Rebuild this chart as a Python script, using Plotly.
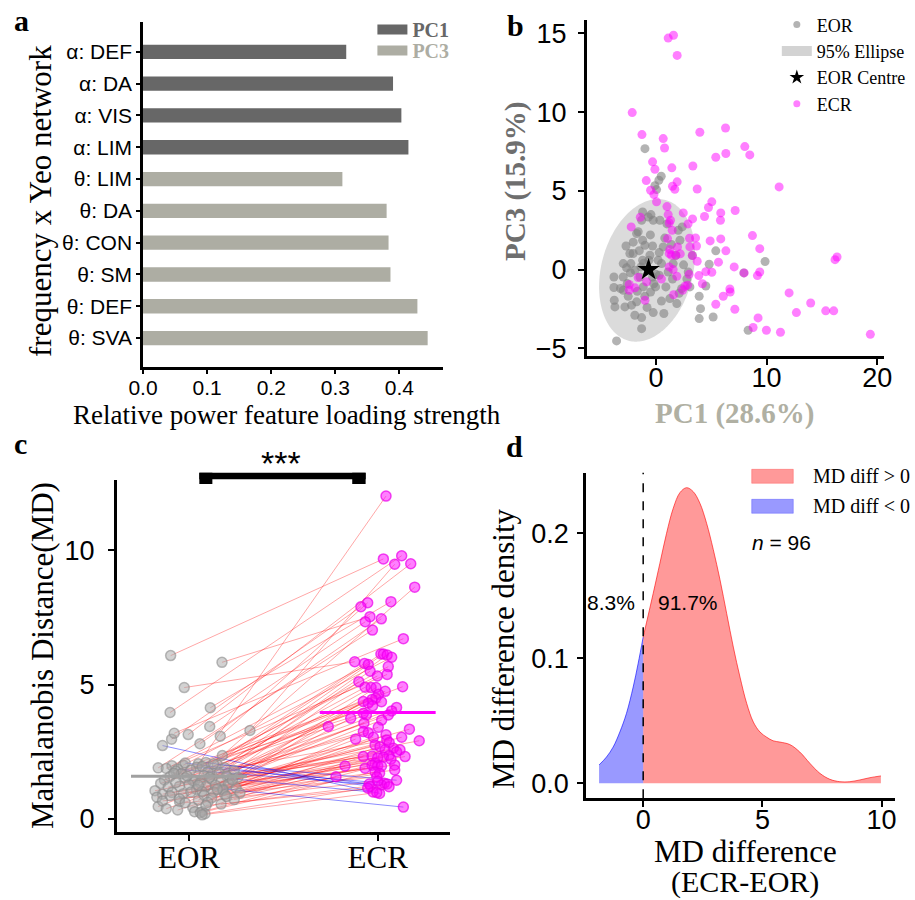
import numpy as np
import plotly.graph_objects as go

SERIF = "Liberation Serif"
SANS = "Liberation Sans"

# ---------------- panel a data ----------------
feat_labels = ["θ: SVA", "θ: DEF", "θ: SM", "θ: CON", "θ: DA", "θ: LIM",
               "α: LIM", "α: VIS", "α: DA", "α: DEF"]
feat_loading = [0.444, 0.428, 0.386, 0.383, 0.380, 0.311,
                0.414, 0.403, 0.390, 0.317]
feat_pc = ["PC3", "PC3", "PC3", "PC3", "PC3", "PC3",
           "PC1", "PC1", "PC1", "PC1"]

# ---------------- panel b data ----------------
eor_pc1 = [-0.99, 0.48, 0.27, -0.09, 0.06, -1.20, -0.45, -0.69, -0.24, -1.29, 2.38, -1.74,
           -2.05, -1.20, -0.99, 0.30, -0.54, -2.35, -2.95, -2.26, -2.65, -1.89, -1.35, -0.63,
           -1.20, 0.51, 0.30, -0.30, -1.44, -3.79, -2.95, -2.59, -3.79, -2.95, -1.68, -0.48,
           -0.03, -1.14, -3.76, -3.70, -2.80, -2.20, -1.74, -1.29, -1.29, -0.24, 0.72, 1.26,
           1.89, 2.32, 3.07, 2.92, 3.91, 4.03, 3.91, 4.51, 5.17, 4.81, 5.41, 9.86, 7.94, 8.33,
           -3.55, 1.11, 1.56, 0.66, 2.02, 2.17, -2.05, 0.36,
           -0.5, 0.8, -1.5, 0.2, -0.2, -2.3, 1.8, 2.5, -1.0, 0.9, -2.7, 1.4, -1.6, 0.5, -0.8,
           2.8, -3.2, 1.0, -0.3, -1.9, 2.1, -1.1, 0.0, 1.5, -2.5, 3.3]
eor_pc3 = [7.68, 5.93, 5.67, 5.33, 5.08, 3.66, 3.49, 3.34, 3.13, 3.13, 2.71, 2.29,
           1.74, 1.86, 1.54, 1.08, 0.91, 1.02, 0.38, 0.38, 0.11, -0.04, 0.17, 0.59,
           0.59, 0.38, -0.36, -0.47, -0.47, -0.47, -0.47, -0.89, -1.14, -1.31, -1.38, -1.42,
           -1.10, -1.10, -1.95, -2.37, -2.37, -2.26, -2.05, -3.05, -3.75, -2.73, -2.79, -1.84,
           -2.16, -1.21, -1.10, -0.15, -1.69, -2.48, -3.11, -1.04, -3.01, 0.34, 1.19, 0.51, -0.21, -3.85,
           -4.53, -0.15, 0.38, 1.44, 2.50, 1.86, 1.02, 3.13,
           2.2, 2.0, 1.2, 0.6, -0.9, -0.2, 0.9, 0.3, -1.7, -1.1, 1.5, 1.6, 2.4, -2.0, -2.4,
           -0.6, -1.2, 2.9, 1.5, -2.9, -1.5, 0.4, -0.3, -0.6, -1.7, 0.9]
ecr_pc1 = [1.11, 1.59, 1.92, -2.14, -1.26, 0.66, 0.78, -0.30, -0.09, -0.87, -0.48, -0.18,
           0.06, 1.44, 1.92, 1.50, 1.71, 3.34, 3.73, 3.97, 6.29, 6.32, 5.41, 8.03, 8.48, 11.13,
           5.05, 4.75, 4.39, 5.86, 5.83, 7.16, 2.47, 3.31, 1.11, 1.32, 1.20, 1.47, -1.41, -2.23,
           1.05, 3.04, 3.58, 3.07, 3.67, 1.26, 1.95, 1.20, 1.41, 1.80, 3.28, 3.73, 4.90, 5.86,
           6.32, 8.72, 9.38, 7.07, 5.65, 5.05, 4.51, 3.88, 1.20, 1.56, 1.89, 9.38, 9.17, 7.97,
           16.18, 16.36, -0.84, -2.41, -1.89, -2.41, -0.99, 2.62, 2.41, 2.86, 6.68, 6.71, 6.08,
           5.41, 7.13, 12.03, 13.98, 12.69, 15.34, 16.06, 9.23, 8.78, 9.98, 11.25, 19.37,
           1.0, 2.2, 0.5, 3.0, -1.6, 4.2, 2.9, 1.6]
ecr_pc3 = [14.70, 14.88, 13.60, 9.97, 8.57, 8.32, 7.72, 6.84, 6.37, 5.65, 5.04, 4.76,
           4.30, 6.46, 5.57, 5.29, 5.10, 6.58, 5.12, 8.72, 8.99, 7.37, 7.13, 7.81, 7.28, 5.25,
           4.30, 3.94, 3.37, 3.60, 3.13, 3.75, 3.60, 3.22, 3.49, 3.13, 2.96, 2.50, 3.32, 2.71,
           1.97, 1.99, 2.01, 1.44, 1.50, 1.27, 1.44, 1.02, 0.91, 0.91, 0.89, 0.53, 1.82, 1.95,
           1.19, 2.16, 1.33, 0.17, 0.47, -0.17, -0.13, -0.38, 0.17, 0.00, -0.42, -0.15, -0.38, -0.21,
           0.63, 0.80, -0.78, -0.95, -1.16, -1.31, -1.95, -1.06, -1.31, -0.99, -1.23, -1.42, -1.69,
           -2.20, -2.52, -1.48, -2.12, -2.73, -2.62, -2.62, -3.07, -3.68, -3.85, -3.98, -4.11,
           4.0, 1.0, -0.6, -0.3, -0.5, -0.9, 2.9, -1.6]
eor_centre = [-0.66, 0.0]
# 95% ellipse: centre, semi-axes and rotation (degrees)
ell_centre = [-0.8, -0.05]
ell_axes = [4.92, 3.88]
ell_angle = 50.5

# ---------------- panel c data (per subject) ----------------
md_eor = [2.05, 3.96, 6.08, 3.14, 3.29, 2.36, 4.14, 3.08, 2.97, 5.83, 2.80, 3.44, 1.90, 3.19,
          1.42, 1.65, 0.65, 2.00, 4.89,
          2.73, 2.10, 2.08, 2.02, 1.92, 1.85, 1.50, 1.12,
          2.05, 1.98, 1.95, 1.90, 1.88, 1.82, 1.80, 1.78, 1.75,
          1.72, 0.70, 1.68, 1.60, 1.58, 1.62, 1.55, 1.52, 1.48, 1.45, 1.40, 1.38, 1.70, 1.35,
          1.32, 1.30, 0.46, 1.28, 1.25, 1.22, 1.20, 0.42, 1.18, 1.15, 1.10, 0.38, 1.08, 1.60,
          1.05, 1.45, 1.02, 0.33, 1.00, 0.98, 1.25, 0.96, 0.94, 1.55, 0.92, 0.27, 0.90, 1.35,
          0.88, 0.86, 1.10, 0.83, 0.27, 0.81, 1.00, 0.78, 0.75, 0.23, 0.72, 0.67, 0.62, 0.60,
          0.55, 0.50, 0.19, 0.15]
md_ecr = [12.02, 9.80, 9.68, 9.50, 9.48, 8.63, 8.09, 8.05, 7.90, 7.53, 7.45, 7.34, 7.03, 6.71,
          6.14, 6.14, 6.10, 6.02, 5.85,
          0.95, 1.30, 1.22, 1.44, 1.33, 1.26, 1.00, 0.44,
          5.79, 5.75, 5.67, 5.50, 5.38, 5.32, 5.11, 4.92, 4.90,
          4.89, 4.89, 4.75, 4.64, 4.50, 4.45, 4.37, 4.36, 4.31, 4.21, 4.15, 4.02, 3.93, 3.87,
          3.87, 3.75, 3.68, 3.56, 3.44, 3.41, 3.34, 3.25, 3.21, 3.13, 3.04, 3.04, 2.97, 2.94,
          2.91, 2.84, 2.75, 2.69, 2.63, 2.57, 2.57, 2.50, 2.36, 2.34, 2.32, 2.32, 2.30, 2.28,
          2.22, 2.07, 2.01, 2.00, 1.98, 1.97, 1.96, 1.89, 1.82, 1.75, 1.70, 1.57, 1.57, 1.40,
          1.30, 1.20, 1.15, 0.98]
jit_eor = [0.05, -0.10, -0.097, -0.004, 0.323, 0.177, 0.113, 0.166, -0.092, 0.175, 0.058, 0.11,
           -0.163, -0.078, 0.02, 0.12, -0.05, -0.03, -0.025,
           -0.14, 0.09, -0.02, 0.15, 0.04, -0.06, 0.22, 0.18,
           0.13, -0.09, 0.07, 0.19, -0.12, 0.01, 0.24, -0.07, 0.10,
           0.16, 0.05, -0.04, 0.20, -0.10, 0.08, 0.26, -0.02, 0.12, -0.13, 0.03, 0.17, -0.08, 0.06,
           -0.15, 0.21, -0.163, 0.00, 0.14, -0.05, 0.09, 0.02, -0.11, 0.25, 0.04, -0.12, 0.18, -0.01,
           -0.18, 0.23, 0.07, -0.06, 0.13, -0.09, 0.05, 0.27, -0.03, 0.11, -0.14, 0.03, 0.19, -0.07,
           0.08, -0.10, 0.15, 0.20, 0.07, -0.17, 0.01, 0.12, -0.05, 0.06, 0.24, -0.14, 0.10, -0.02,
           0.17, 0.09, 0.085, 0.07]
jit_ecr = [1.044, 1.127, 1.03, 1.175, 1.09, 1.196, 1.07, 0.947, 0.911, 0.959, 1.019, 0.934,
           0.972, 1.136, 1.017, 1.03, 1.05, 1.074, 0.878,
           1.01, 0.955, 0.962, 1.10, 1.035, 1.02, 0.975, 1.136,
           0.93, 0.95, 1.056, 0.96, 1.05, 0.998, 0.90, 1.132, 0.933,
           0.965, 0.991, 1.04, 1.005, 0.99, 0.97, 0.924, 1.02, 0.95, 0.973, 1.10, 1.074, 0.924, 1.056,
           0.94, 0.857, 1.021, 0.927, 0.738, 1.003, 1.168, 0.924, 0.95, 1.044, 1.127, 0.977, 0.883, 1.048,
           1.22, 1.061, 0.986, 1.012, 1.083, 1.039, 1.118, 1.10, 1.06, 0.97, 1.145, 0.924, 1.03, 1.0,
           1.07, 0.986, 1.09, 0.97, 1.0, 0.827, 1.02, 0.933, 1.09, 0.986, 1.01, 0.995, 0.779, 1.0,
           1.05, 1.06, 0.947, 0.995]
group_labels = ["EOR", "ECR"]

# ---------------- panel d data (density of MD difference) ----------------
kde_x = [-1.85, -1.54, -1.26, -0.98, -0.70, -0.42, -0.21, 0.0, 0.42, 0.70, 0.98, 1.26, 1.54,
         1.82, 2.10, 2.38, 2.66, 2.94, 3.22, 3.50, 3.78, 4.06, 4.34, 4.62, 4.90, 5.17, 5.45,
         5.73, 6.15, 6.57, 6.99, 7.41, 7.83, 8.25, 8.67, 9.09, 9.51, 9.97]
kde_y = [0.0147, 0.021, 0.029, 0.041, 0.056, 0.077, 0.096, 0.117, 0.152, 0.176, 0.200, 0.220,
         0.2325, 0.2365, 0.2333, 0.224, 0.208, 0.187, 0.163, 0.136, 0.109, 0.085, 0.064, 0.049,
         0.041, 0.037, 0.034, 0.033, 0.031, 0.025, 0.016, 0.008, 0.0032, 0.0013, 0.0013, 0.0027,
         0.0045, 0.0059]
pct_neg = "8.3%"
pct_pos = "91.7%"
n_subj = 96
diff_legend = ["MD diff &gt; 0", "MD diff &lt; 0"]

# ---------------- colours ----------------
C_PC1 = "#676767"
C_PC3 = "#adada3"
C_GRAY = "rgba(128,128,128,0.6)"
C_MAG = "rgba(255,0,255,0.5)"
C_RED = "rgba(255,0,0,0.4)"
C_BLUE = "rgba(0,0,255,0.4)"

fig = go.Figure()

# ---- panel a: bars ----
for pc, col in [("PC1", C_PC1), ("PC3", C_PC3)]:
    xs = [v for v, p in zip(feat_loading, feat_pc) if p == pc]
    ys = [l for l, p in zip(feat_labels, feat_pc) if p == pc]
    fig.add_trace(go.Bar(x=xs, y=ys, orientation="h", width=0.45, marker_color=col,
                         marker_line_width=0, showlegend=False, xaxis="x", yaxis="y"))
    fig.add_trace(go.Scatter(x=[None], y=[None], mode="lines", line=dict(color=col, width=10),
                             name="<b>%s</b>" % pc, xaxis="x", yaxis="y",
                             legend="legend" if pc == "PC1" else "legend2"))

# ---- panel b: scatter ----
t = np.linspace(0, 2 * np.pi, 200)
ang = np.deg2rad(ell_angle)
ex = ell_centre[0] + ell_axes[0] * np.cos(t) * np.cos(ang) - ell_axes[1] * np.sin(t) * np.sin(ang)
ey = ell_centre[1] + ell_axes[0] * np.cos(t) * np.sin(ang) + ell_axes[1] * np.sin(t) * np.cos(ang)
fig.add_trace(go.Scatter(x=ex, y=ey, mode="none", fill="toself",
                         fillcolor="rgba(190,190,190,0.55)", showlegend=False,
                         xaxis="x2", yaxis="y2"))
fig.add_trace(go.Scatter(x=eor_pc1, y=eor_pc3, mode="markers", showlegend=False,
                         marker=dict(size=9, color=C_GRAY, line=dict(width=0)),
                         xaxis="x2", yaxis="y2"))
fig.add_trace(go.Scatter(x=ecr_pc1, y=ecr_pc3, mode="markers", showlegend=False,
                         marker=dict(size=9, color=C_MAG, line=dict(width=0)),
                         xaxis="x2", yaxis="y2"))
fig.add_trace(go.Scatter(x=[eor_centre[0]], y=[eor_centre[1]], mode="markers", showlegend=False,
                         marker=dict(size=17, color="black", symbol="star"),
                         xaxis="x2", yaxis="y2"))
# legend entries for b
fig.add_trace(go.Scatter(x=[None], y=[None], mode="markers", name="EOR",
                         marker=dict(size=7, color=C_GRAY), xaxis="x2", yaxis="y2",
                         legend="legend3", legendrank=1))
fig.add_trace(go.Scatter(x=[None], y=[None], mode="lines", name="95% Ellipse",
                         line=dict(color="rgba(200,200,200,0.8)", width=14), xaxis="x2", yaxis="y2",
                         legend="legend3", legendrank=2))
fig.add_trace(go.Scatter(x=[None], y=[None], mode="markers", name="EOR Centre",
                         marker=dict(size=11, color="black", symbol="star"), xaxis="x2", yaxis="y2",
                         legend="legend3", legendrank=3))
fig.add_trace(go.Scatter(x=[None], y=[None], mode="markers", name="ECR",
                         marker=dict(size=7, color=C_MAG), xaxis="x2", yaxis="y2",
                         legend="legend3", legendrank=4))

# ---- panel c: paired lines ----
rx, ry, bx, by = [], [], [], []
for e, c, je, jc in zip(md_eor, md_ecr, jit_eor, jit_ecr):
    if c - e >= 0:
        rx += [je, jc, None]; ry += [e, c, None]
    else:
        bx += [je, jc, None]; by += [e, c, None]
fig.add_trace(go.Scatter(x=rx, y=ry, mode="lines", line=dict(color="rgba(255,0,0,0.35)", width=1),
                         showlegend=False, xaxis="x3", yaxis="y3"))
fig.add_trace(go.Scatter(x=bx, y=by, mode="lines", line=dict(color="rgba(0,0,255,0.45)", width=1),
                         showlegend=False, xaxis="x3", yaxis="y3"))
fig.add_trace(go.Scatter(x=jit_eor, y=md_eor, mode="markers", showlegend=False,
                         marker=dict(size=10, color="rgba(165,165,165,0.5)",
                                     line=dict(color="rgba(140,140,140,0.6)", width=1.5)),
                         xaxis="x3", yaxis="y3"))
fig.add_trace(go.Scatter(x=jit_ecr, y=md_ecr, mode="markers", showlegend=False,
                         marker=dict(size=10, color="rgba(255,0,255,0.5)",
                                     line=dict(color="rgba(235,0,235,0.7)", width=1.5)),
                         xaxis="x3", yaxis="y3"))
m_eor = float(np.mean(md_eor))
m_ecr = float(np.mean(md_ecr))
fig.add_trace(go.Scatter(x=[-0.307, 0.307], y=[m_eor, m_eor], mode="lines",
                         line=dict(color="#a0a0a0", width=3), showlegend=False,
                         xaxis="x3", yaxis="y3"))
fig.add_trace(go.Scatter(x=[0.693, 1.307], y=[m_ecr, m_ecr], mode="lines",
                         line=dict(color="#ff00ff", width=3), showlegend=False,
                         xaxis="x3", yaxis="y3"))

# ---- panel d: density ----
kx = np.array(kde_x); ky = np.array(kde_y)
neg = kx <= 0
pos = kx >= 0
fig.add_trace(go.Scatter(x=kx[pos], y=ky[pos], mode="lines", fill="tozeroy",
                         fillcolor=C_RED, line=dict(color="rgba(255,0,0,0.6)", width=1,
                                                    shape="spline"),
                         showlegend=False, xaxis="x4", yaxis="y4"))
fig.add_trace(go.Scatter(x=kx[neg], y=ky[neg], mode="lines", fill="tozeroy",
                         fillcolor=C_BLUE, line=dict(color="rgba(0,0,255,0.6)", width=1,
                                                     shape="spline"),
                         showlegend=False, xaxis="x4", yaxis="y4"))

# ---------------- axes ----------------
ax = dict(showline=True, linecolor="black", linewidth=2.5, ticks="outside", ticklen=6,
          tickwidth=2, tickcolor="black", showgrid=False, zeroline=False, automargin=False,
          tickfont=dict(family=SANS, size=27, color="black"))
axa = dict(ax, ticklen=4, ticklabelstandoff=0, tickfont=dict(family=SANS, size=21, color="black"))

fig.update_layout(
    template="none",
    font=dict(family=SANS, color="black"),
    xaxis=dict(axa, domain=[0.1563, 0.4842], range=[0, 0.468], tickvals=[0, 0.1, 0.2, 0.3, 0.4],
               tickformat=".1f", ticklabelstandoff=-4, anchor="y"),
    yaxis=dict(axa, domain=[0.5922, 0.9756], range=[-0.91, 9.94], categoryorder="array",
               categoryarray=feat_labels, anchor="x"),
    xaxis2=dict(ax, domain=[0.6412, 0.9661], range=[-6.25, 20.6], tickvals=[0, 10, 20],
                ticklabelstandoff=-10, anchor="y2"),
    yaxis2=dict(ax, domain=[0.6044, 0.9778], range=[-5.49, 15.85], tickvals=[-5, 0, 5, 10, 15],
                ticklabelstandoff=6, anchor="x2"),
    xaxis3=dict(ax, domain=[0.1275, 0.4918], range=[-0.383, 1.383], tickvals=[0, 1],
                ticktext=group_labels, tickfont=dict(family=SERIF, size=31, color="black"),
                ticklabelstandoff=-10, anchor="y3"),
    yaxis3=dict(ax, domain=[0.0752, 0.4667], range=[-0.5, 12.62], tickvals=[0, 5, 10],
                ticklabelstandoff=8, anchor="x3"),
    xaxis4=dict(ax, domain=[0.6404, 0.9781], range=[-2.40, 10.56], tickvals=[0, 5, 10],
                ticklabelstandoff=-10, anchor="y4"),
    yaxis4=dict(ax, domain=[0.1130, 0.4748], range=[-0.012, 0.2485], tickvals=[0, 0.1, 0.2],
                tickformat=".1f", ticklabelstandoff=3, anchor="x4"),
)

leg = dict(bgcolor="rgba(0,0,0,0)", xanchor="left", yanchor="top", borderwidth=0)
fig.update_layout(
    legend=dict(leg, x=0.407, y=0.989, font=dict(family=SERIF, size=20, color=C_PC1)),
    legend2=dict(leg, x=0.407, y=0.9656, font=dict(family=SERIF, size=20, color=C_PC3)),
    legend3=dict(leg, x=0.849, y=0.993, font=dict(family=SERIF, size=18, color="black")),
    barmode="overlay",
    width=915, height=900, margin=dict(l=0, r=0, t=0, b=0, autoexpand=False),
    paper_bgcolor="white", plot_bgcolor="white",
)

# ---------------- annotations ----------------
ann = []
def A(text, x, y, size, family=SERIF, angle=0, color="black", xref="paper", yref="paper",
      xanchor="center"):
    ann.append(dict(text=text, x=x, y=y, xref=xref, yref=yref, showarrow=False,
                    textangle=angle, font=dict(family=family, size=size, color=color),
                    xanchor=xanchor, yanchor="middle"))

# panel letters
A("<b>a</b>", 21 / 915, 1 - 20 / 900, 30)
A("<b>b</b>", 515 / 915, 1 - 26 / 900, 30)
A("<b>c</b>", 20 / 915, 1 - 443 / 900, 30)
A("<b>d</b>", 514 / 915, 1 - 446 / 900, 30)
# axis titles
A("frequency x Yeo network", 40 / 915, 1 - 201 / 900, 31, angle=-90)
A("Relative power feature loading strength", 287 / 915, 1 - 415 / 900, 27)
A("<b>PC3 (15.9%)</b>", 516 / 915, 1 - 182 / 900, 29, angle=-90, color="#6e6e6e")
A("<b>PC1 (28.6%)</b>", 734 / 915, 1 - 413 / 900, 29, color="#b0b0a3")
A("Mahalanobis Distance(MD)", 42 / 915, 1 - 656 / 900, 31, angle=-90)
A("MD difference density", 503 / 915, 1 - 649 / 900, 31, angle=-90)
A("MD difference", 745 / 915, 1 - 851 / 900, 31)
A("(ECR-EOR)", 745 / 915, 1 - 882 / 900, 30)
# panel c significance
A("***", 0.49, 1 - 463 / 900, 34, family=SANS, xref="x3")
# panel d texts
A(pct_neg, -1.33, 0.1445, 21, family=SANS, xref="x4", yref="y4")
A(pct_pos, 1.89, 0.1445, 21, family=SANS, xref="x4", yref="y4")
A("<i>n</i> = %d" % n_subj, 5.8, 0.1925, 21, family=SANS, xref="x4", yref="y4")
# panel d legend texts
A(diff_legend[0], 810.7 / 915, 1 - 476.3 / 900, 20, xanchor="left")
A(diff_legend[1], 810.7 / 915, 1 - 506.3 / 900, 20, xanchor="left")
fig.update_layout(annotations=ann)

# ---------------- shapes ----------------
shapes = [
    # significance bracket (panel c)
    dict(type="line", xref="x3", yref="paper", x0=0.055, x1=0.936,
         y0=1 - 476 / 900, y1=1 - 476 / 900, line=dict(color="black", width=6.5)),
    dict(type="rect", xref="x3", yref="paper", x0=0.055, x1=0.124,
         y0=1 - 484 / 900, y1=1 - 472.7 / 900, fillcolor="black", line=dict(width=0)),
    dict(type="rect", xref="x3", yref="paper", x0=0.865, x1=0.936,
         y0=1 - 484 / 900, y1=1 - 472.7 / 900, fillcolor="black", line=dict(width=0)),
    # zero line in panel d
    dict(type="line", xref="x4", yref="y4 domain", x0=0, x1=0, y0=0, y1=1,
         line=dict(color="black", width=1.5, dash="dash")),
    # panel d legend patches
    dict(type="rect", xref="paper", yref="paper", x0=751.7 / 915, x1=793.3 / 915,
         y0=1 - 483.3 / 900, y1=1 - 469.3 / 900, fillcolor=C_RED,
         line=dict(color="rgba(255,0,0,0.25)", width=1)),
    dict(type="rect", xref="paper", yref="paper", x0=751.7 / 915, x1=793.3 / 915,
         y0=1 - 513.3 / 900, y1=1 - 499.3 / 900, fillcolor=C_BLUE,
         line=dict(color="rgba(0,0,255,0.25)", width=1)),
]
fig.update_layout(shapes=shapes)

fig.write_html("out.html", config={"displayModeBar": False},
               post_script="document.body.style.margin='0';document.body.style.overflow='hidden';")
